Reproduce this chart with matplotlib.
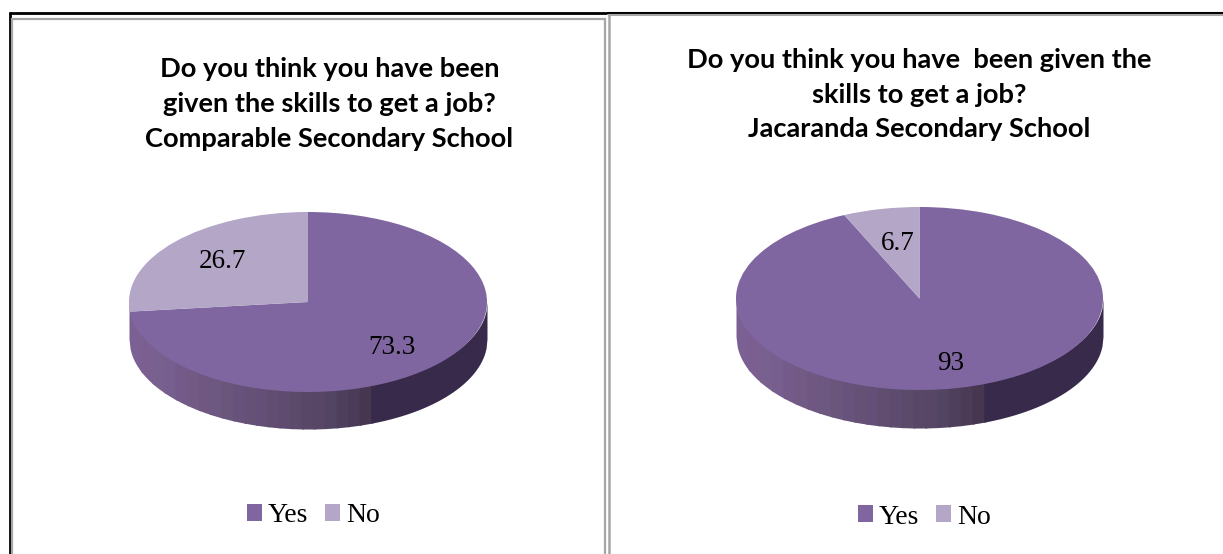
import numpy as np
import matplotlib
matplotlib.use('Agg')
import matplotlib.pyplot as plt
from matplotlib.patches import Patch

W, H = 1223, 554

categories = ['Yes', 'No']
comparable_values = [73.3, 26.7]
jacaranda_values = [93, 6.7]
comparable_title = 'Do you think you have been\ngiven the skills to get a job?\nComparable Secondary School'
jacaranda_title = 'Do you think you have  been given the\nskills to get a job?\nJacaranda Secondary School'

YES = '#8066A0'
NO = '#B3A6C7'
TEXT_FONT = ['Liberation Serif', 'DejaVu Serif']

# shaded stripes along the rim, left to right
wall_colors = ['#7a6093', '#7b5f90', '#78608f', '#765e8e', '#735a88', '#715b85', '#6f5782',
               '#6c5880', '#6a557b', '#67527b', '#665176', '#634f78', '#604d70', '#5e4b70',
               '#5c4a6a', '#594767', '#574665', '#524463', '#4e405c', '#4c3b58', '#463650']
WALL_DARK = '#372a4b'

fig = plt.figure(figsize=(W / 100, H / 100), dpi=100, facecolor='white')

# pixel-based overlay for frames, titles and value labels
overlay = fig.add_axes([0, 0, 1, 1], zorder=5)
overlay.set_xlim(0, W)
overlay.set_ylim(H, 0)
overlay.axis('off')


def draw_pie(values, cx, cy, rx, ry, depth):
    ax = fig.add_axes([(cx - rx) / W, (H - cy - ry - depth) / H, 2 * rx / W, (2 * ry + depth) / H])
    d = depth / ry

    # rim: stripes of the lower half of the ellipse pushed down by the depth,
    # started slightly inside the ellipse so the top face covers the join
    edges = np.linspace(-1, 0.35, len(wall_colors) + 1)
    for i, c in enumerate(wall_colors):
        xs = np.linspace(edges[i], edges[i + 1] + 0.012, 12)
        low = -np.sqrt(1 - xs ** 2)
        ax.fill_between(xs, low * 0.97, low - d, color=c, lw=0, zorder=1 + i * 0.01)
    xs = np.linspace(edges[-1], 1, 120)
    low = -np.sqrt(1 - xs ** 2)
    ax.fill_between(xs, low * 0.97, low - d, color=WALL_DARK, lw=0, zorder=1.5)

    ax.pie(values, colors=[YES, NO], startangle=90, counterclock=False, radius=1,
           wedgeprops={'linewidth': 0, 'zorder': 2})
    ax.set_aspect('auto')
    ax.set_xlim(-1, 1)
    ax.set_ylim(-1 - d, 1)
    ax.axis('off')
    return ax


draw_pie(comparable_values, 308, 302, 179, 90, 37)
draw_pie(jacaranda_values, 919.5, 298.5, 183.5, 91.5, 38)

# value labels
label_size = 19.5
overlay.text(222, 262, str(comparable_values[1]), ha='center', va='center', fontsize=label_size, family=TEXT_FONT)
overlay.text(392, 347, str(comparable_values[0]), ha='center', va='center', fontsize=label_size, family=TEXT_FONT)
overlay.text(898, 244, str(jacaranda_values[1]), ha='center', va='center', fontsize=label_size, family=TEXT_FONT)
overlay.text(951, 363, str(jacaranda_values[0]), ha='center', va='center', fontsize=label_size, family=TEXT_FONT)

# titles
for title, x, ys in [(comparable_title, 329.5, [77, 112, 147]), (jacaranda_title, 919.5, [68, 103, 137])]:
    for line, y in zip(title.split('\n'), ys):
        overlay.text(x, y, line, ha='center', va='baseline', fontsize=19.6, fontweight='bold',
                     family=['Lato', 'DejaVu Sans'], color='black')

# frames around the two panels
GREY = '#a6a6a6'
overlay.plot([9, 607], [13, 13], color='black', lw=2, solid_capstyle='butt')
overlay.plot([607, W], [13, 13], color='black', lw=1.5, solid_capstyle='butt')
overlay.plot([10, 10], [12, H], color='black', lw=2, solid_capstyle='butt')
overlay.plot([608, W], [15, 15], color=GREY, lw=1.5, solid_capstyle='butt')
overlay.plot([12, 606], [19, 19], color=GREY, lw=1.6, solid_capstyle='butt')
overlay.plot([12, 12], [18, H], color=GREY, lw=1.6, solid_capstyle='butt')
overlay.plot([605, 605], [18, H], color=GREY, lw=1.6, solid_capstyle='butt')
overlay.plot([608.5, 608.5], [14, H], color=GREY, lw=1.8, solid_capstyle='butt')

# legends
handles = [Patch(color=YES, label=categories[0], lw=0), Patch(color=NO, label=categories[1], lw=0)]
for anchor in [(313.5 / W, 1 - 516 / H), (924.5 / W, 1 - 517 / H)]:
    fig.legend(handles=handles, loc='center', bbox_to_anchor=anchor, ncol=2, frameon=False,
               prop={'family': TEXT_FONT, 'size': 20}, handlelength=0.54, handleheight=0.54,
               handletextpad=0.22, columnspacing=0.62, borderpad=0, borderaxespad=0)

fig.savefig('out.png', dpi=100)
